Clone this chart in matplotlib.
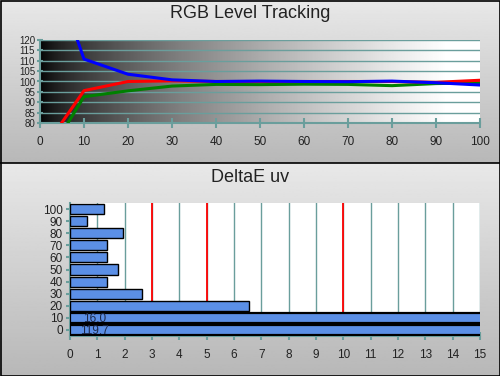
import numpy as np
import matplotlib
matplotlib.use("Agg")
import matplotlib.pyplot as plt
from matplotlib.patches import Rectangle
from matplotlib.lines import Line2D

plt.rcParams['font.family'] = ['Liberation Sans', 'DejaVu Sans']

# ---- data: RGB level tracking ----
levels = [0, 10, 20, 30, 40, 50, 60, 70, 80, 90, 100]
red   = [65.0, 95.6, 100.0, 100.3, 100.0, 100.0, 100.0, 100.0, 100.0, 99.6, 100.6]
green = [58.0, 92.7, 95.5, 97.8, 98.6, 98.5, 98.7, 98.6, 98.0, 99.0, 99.3]
blue  = [172.0, 110.8, 103.5, 100.8, 100.0, 100.2, 100.0, 99.9, 100.2, 99.4, 98.3]
top_xticks = [0, 10, 20, 30, 40, 50, 60, 70, 80, 90, 100]
top_yticks = [80, 85, 90, 95, 100, 105, 110, 115, 120]

# ---- data: DeltaE uv ----
de_levels = ['0', '10', '20', '30', '40', '50', '60', '70', '80', '90', '100']
de_values = [119.7, 16.0, 6.55, 2.62, 1.37, 1.77, 1.37, 1.34, 1.95, 0.61, 1.25]
thresholds = [3, 5, 10]
bottom_xticks = list(range(0, 16))

W, H = 500, 376
fig = plt.figure(figsize=(W / 100, H / 100), dpi=100)

# background panels with vertical gradients
bg = fig.add_axes([0, 0, 1, 1], zorder=-10)
bg.axis('off')
g = np.linspace(0, 1, 200).reshape(-1, 1)
cm = plt.get_cmap('gray')
bg.imshow(0.91 - 0.19 * g, cmap=cm, vmin=0, vmax=1, aspect='auto', extent=[0, W, 163, 0])
bg.imshow(0.91 - 0.19 * g, cmap=cm, vmin=0, vmax=1, aspect='auto', extent=[0, W, H, 163])
bg.set_xlim(0, W)
bg.set_ylim(H, 0)
bg.add_line(Line2D([0, W], [163.3, 163.3], color='black', lw=1.2))
bg.add_patch(Rectangle((0.5, 0.5), W - 1, H - 1, fill=False, ec='black', lw=1.2))

teal = '#6a9e9c'

# ---- top axes ----
ax1 = fig.add_axes([40 / W, 1 - 123 / H, 440 / W, 83 / H])
xg = np.linspace(0, 1, 400).reshape(1, -1)
ax1.imshow(np.clip(xg ** 0.65 * 1.05, 0, 1), cmap=cm, vmin=0, vmax=1, aspect='auto',
           extent=[0, 100, 80, 120], zorder=0)
for yv in top_yticks:
    ax1.axhline(yv, color=teal, lw=1.0, zorder=1)
ax1.plot(levels, green, color='#008000', lw=2.2, zorder=3)
ax1.plot(levels, red, color='#ff0000', lw=2.2, zorder=4)
ax1.plot(levels, blue, color='#0000ff', lw=2.2, zorder=5)
ax1.set_xlim(0, 100)
ax1.set_ylim(80, 120)
ax1.set_xticks(top_xticks)
ax1.set_yticks(top_yticks)
for s in ['top', 'right']:
    ax1.spines[s].set_visible(False)
for s in ['left', 'bottom']:
    ax1.spines[s].set_color(teal)
    ax1.spines[s].set_linewidth(1.5)
ax1.tick_params(axis='x', colors=teal, direction='inout', length=7, width=1.5,
                labelcolor='#222222', labelsize=8.5, pad=6)
ax1.tick_params(axis='y', colors=teal, direction='inout', length=5, width=1.5,
                labelcolor='#222222', labelsize=7, pad=1)
fig.text(0.5, 1 - 14 / H, 'RGB Level Tracking', ha='center', va='center',
         fontsize=13, color='#222222')

# ---- bottom axes ----
ax2 = fig.add_axes([70 / W, 1 - 336 / H, 410 / W, 133 / H])
ax2.set_facecolor('white')
pos = np.arange(len(de_levels))
for xv in bottom_xticks[1:]:
    ax2.axvline(xv, color=teal, lw=1.0, zorder=1)
for t in thresholds:
    ax2.axvline(t, color='#ff0000', lw=1.3, zorder=2)
bars = ax2.barh(pos, de_values, height=0.83, color='#5b8fe6', edgecolor='black',
                linewidth=1.0, zorder=3)
for i, v in enumerate(de_values):
    if v > 15:
        bars[i].set_linewidth(1.6)
        ax2.text(0.9, pos[i] - 0.1, f'{v:.1f}', ha='center', va='center',
                 fontsize=8.5, color='#1c2848', zorder=5)
ax2.set_xlim(0, 15)
ax2.set_ylim(-0.5, len(de_levels) - 0.5)
ax2.set_xticks(bottom_xticks)
ax2.set_yticks(pos)
ax2.set_yticklabels(de_levels)
for s in ['top', 'right']:
    ax2.spines[s].set_visible(False)
for s in ['left', 'bottom']:
    ax2.spines[s].set_color(teal)
    ax2.spines[s].set_linewidth(1.5)
ax2.tick_params(axis='x', colors=teal, direction='inout', length=6, width=1.5,
                labelcolor='#222222', labelsize=8.5, pad=6)
ax2.tick_params(axis='y', colors=teal, direction='out', length=3, width=1.5,
                labelcolor='#222222', labelsize=8.5, pad=2)
fig.text(0.5, 1 - 177.5 / H, 'DeltaE uv', ha='center', va='center',
         fontsize=13, color='#222222')

fig.savefig('out.png', dpi=100)
